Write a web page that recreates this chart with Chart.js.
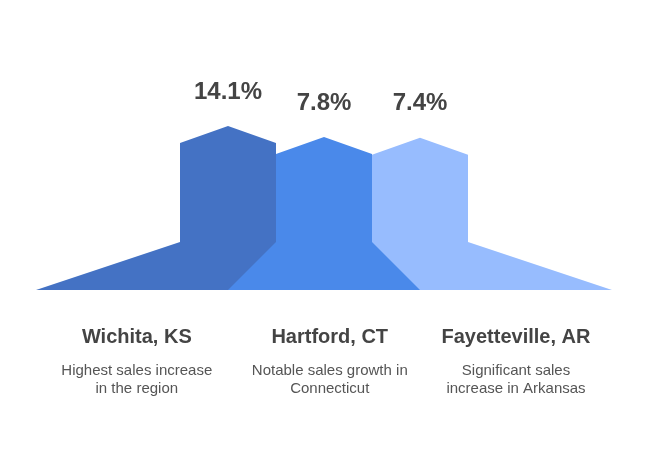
<!DOCTYPE html>
<html>
<head>
<meta charset="utf-8">
<script src="https://cdn.jsdelivr.net/npm/chart.js@4/dist/chart.umd.min.js"></script>
<style>
  html, body { margin: 0; padding: 0; background: #fff; }
  #wrap { width: 648px; height: 470px; position: relative; }
</style>
</head>
<body>
<div id="wrap"><canvas id="chart"></canvas></div>
<script>
const cities = ["Wichita, KS", "Hartford, CT", "Fayetteville, AR"];
const growth = [14.1, 7.8, 7.4];
const valueLabels = ["14.1%", "7.8%", "7.4%"];
const notes = [
  ["Highest sales increase", "in the region"],
  ["Notable sales growth in", "Connecticut"],
  ["Significant sales", "increase in Arkansas"],
];
const colors = ["#4472C4", "#4A89EA", "#97BCFE"];

// shape geometry: y in px above the baseline, x in category units
const KNEE = 48, SHOULDER_DROP = 17, PEAK_BASE = 139.4, PEAK_PER_PCT = 1.746;
const HALF_BODY = 0.5;
const edges = [-2, 0, 2, 4];            // baseline split into thirds
const labelX = [-0.95, 1.06, 3.0];      // centres of the bottom captions

function peakOf(v) { return PEAK_BASE + v * PEAK_PER_PCT; }

function shape(v, i) {
  const peak = peakOf(v);
  const L = edges[i], R = edges[i + 1];
  const pts = [
    { x: i - HALF_BODY, y: KNEE },
    { x: i - HALF_BODY, y: peak - SHOULDER_DROP },
    { x: i, y: peak },
    { x: i + HALF_BODY, y: peak - SHOULDER_DROP },
    { x: i + HALF_BODY, y: KNEE },
  ];
  // keep x increasing; an inward foot is covered by the neighbour drawn on top
  if (L < i - HALF_BODY) pts.unshift({ x: L, y: 0 });
  if (R > i + HALF_BODY) pts.push({ x: R, y: 0 });
  return pts;
}

const textPlugin = {
  id: "texts",
  afterDatasetsDraw(chart) {
    const { ctx, scales: { x, y } } = chart;
    ctx.save();
    ctx.textAlign = "center";
    ctx.textBaseline = "middle";
    growth.forEach((v, i) => {
      ctx.fillStyle = "#444444";
      ctx.font = "bold 24px 'Liberation Sans', Arial, sans-serif";
      ctx.fillText(valueLabels[i], x.getPixelForValue(i), y.getPixelForValue(peakOf(v)) - 34);

      const cx = x.getPixelForValue(labelX[i]);
      ctx.font = "bold 20px 'Liberation Sans', Arial, sans-serif";
      ctx.fillText(cities[i], cx, 337);
      ctx.fillStyle = "#555555";
      ctx.font = "15px 'Liberation Sans', Arial, sans-serif";
      notes[i].forEach((line, k) => ctx.fillText(line, cx, 371 + k * 18));
    });
    ctx.restore();
  }
};

new Chart(document.getElementById("chart"), {
  type: "line",
  data: {
    datasets: growth.map((v, i) => {
      const full = edges[i] < i - HALF_BODY && edges[i + 1] > i + HALF_BODY;
      return {
        label: cities[i],
        data: shape(v, i),
        backgroundColor: colors[i],
        borderColor: colors[i],
        borderWidth: 0,
        pointRadius: 0,
        tension: 0,
        fill: "origin",
        order: full ? 0 : 1,
      };
    })
  },
  options: {
    responsive: true,
    maintainAspectRatio: false,
    animation: false,
    layout: { padding: { left: 36, right: 36, top: 40, bottom: 180 } },
    scales: {
      x: { type: "linear", min: -2, max: 4, display: false },
      y: { min: 0, max: 250, display: false },
    },
    plugins: { legend: { display: false }, tooltip: { enabled: false } },
  },
  plugins: [textPlugin],
});
</script>
</body>
</html>
